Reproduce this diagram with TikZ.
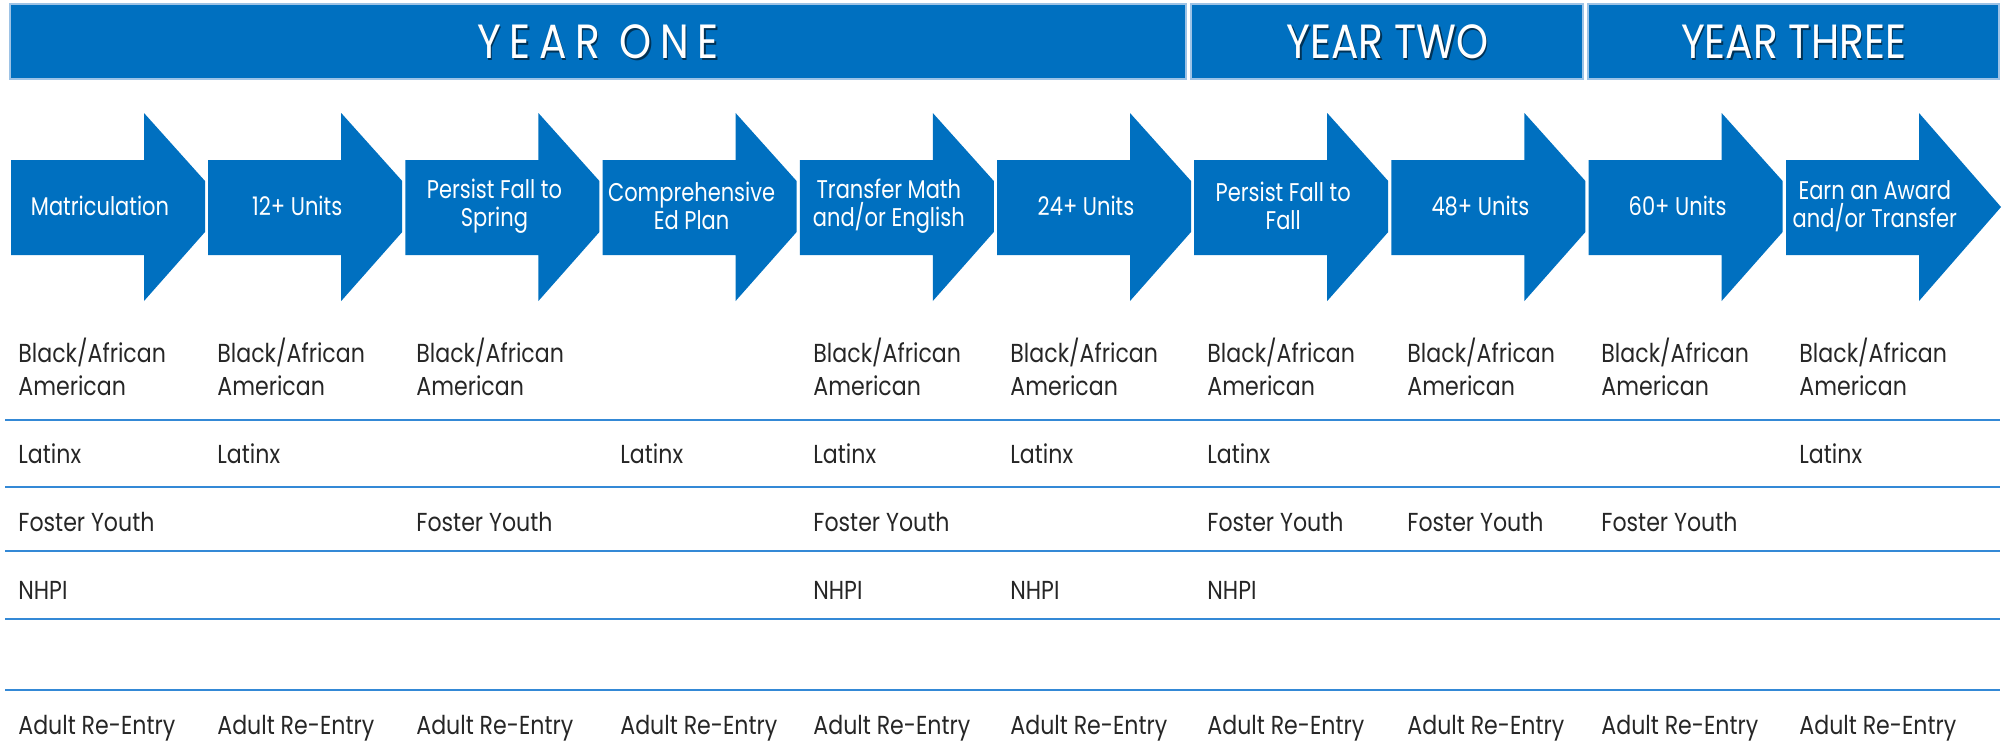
\documentclass[tikz,border=0pt]{standalone}
\usepackage{fontspec}
\setmainfont{Poppins}
\newfontfamily\stepfont[FakeStretch=0.82]{Poppins}
\newfontfamily\cellfont[FakeStretch=0.85]{Poppins}
\newfontfamily\yearfont[FakeStretch=0.85]{Poppins}

\definecolor{barblue}{RGB}{0,112,192}
\definecolor{barrim}{RGB}{157,195,230}
\definecolor{rowline}{RGB}{52,137,214}
\definecolor{celltext}{RGB}{38,38,38}

\tikzset{
	yearbar/.style={fill=barblue, draw=barrim, line width=0.6},
	yeartext/.style={text=white, inner sep=0, font=\yearfont\fontsize{24}{28}\selectfont},
	yearshadow/.style={yeartext, text=black, opacity=0.55},
	steptext/.style={text=white, align=center, inner sep=0, font=\stepfont\fontsize{12.8}{13.9}\selectfont},
	cell/.style={anchor=base west, text=celltext, align=left, inner sep=0, font=\cellfont\fontsize{13}{16.5}\selectfont},
	rowrule/.style={rowline, line width=1},
}

\begin{document}
\begin{tikzpicture}[x=0.5pt,y=-0.5pt]
	\useasboundingbox (0,0) rectangle (2005,741);

	% year bars
	\draw[yearbar] (10,4) rectangle (1186,79);
	\draw[yearbar] (1191,4) rectangle (1583,79);
	\draw[yearbar] (1588,4) rectangle (1999,79);
	\node[yearshadow] (yr1s) at (599.5,43.5) {\addfontfeature{LetterSpace=18}YEAR ONE};
	\node[yeartext] (yr1) at (598,42) {\addfontfeature{LetterSpace=18}YEAR ONE};
	\node[yearshadow] (yr2s) at (1389,43.5) {YEAR TWO};
	\node[yeartext] (yr2) at (1387.5,42) {YEAR TWO};
	\node[yearshadow] (yr3s) at (1795,43.5) {YEAR THREE};
	\node[yeartext] (yr3) at (1793.5,42) {YEAR THREE};

	% step arrows, tips cut where the next one starts
	\foreach \i in {0,...,8}{
		\pgfmathsetmacro\sx{11+197.2*\i}
		\fill[barblue] (\sx,160) -- (\sx+133,160) -- (\sx+133,113) -- (\sx+194,181)
			-- (\sx+194,232) -- (\sx+133,301) -- (\sx+133,255) -- (\sx,255) -- cycle;
	}
	\fill[barblue] (1786,160) -- (1919,160) -- (1919,113) -- (2001,207)
		-- (1919,301) -- (1919,255) -- (1786,255) -- cycle;

	\foreach \i/\txt in {0/Matriculation, 1/12+ Units, 2/{Persist Fall to\\Spring},
		3/{Comprehensive\\Ed Plan}, 4/{Transfer Math\\and/or English}, 5/24+ Units,
		6/{Persist Fall to\\Fall}, 7/48+ Units, 8/60+ Units, 9/{Earn an Award\\and/or Transfer}}{
		\pgfmathsetmacro\sx{11+197.2*\i}
		\node[steptext] (step\i) at (\sx+89,206) {\txt};
	}

	% rules between the groups
	\foreach \ry in {420,487,551,619,690}
		\draw[rowrule] (5,\ry) -- (2000,\ry);

	% group entries under each step
	\def\colx{{18,217,416,620,813,1010,1207,1407,1601,1799}}
	\foreach \c in {0,1,2,4,5,6,7,8,9}{
		\pgfmathsetmacro\cx{\colx[\c]}
		\node[cell] (black\c) at (\cx,395) {Black/African\\American};
	}
	\foreach \c in {0,1,3,4,5,6,9}{
		\pgfmathsetmacro\cx{\colx[\c]}
		\node[cell] (latinx\c) at (\cx,463) {Latinx};
	}
	\foreach \c in {0,2,4,6,7,8}{
		\pgfmathsetmacro\cx{\colx[\c]}
		\node[cell] (foster\c) at (\cx,531.5) {Foster Youth};
	}
	\foreach \c in {0,4,5,6}{
		\pgfmathsetmacro\cx{\colx[\c]}
		\node[cell] (nhpi\c) at (\cx,599.5) {NHPI};
	}
	\foreach \c in {0,...,9}{
		\pgfmathsetmacro\cx{\colx[\c]}
		\node[cell] (adult\c) at (\cx,734) {Adult Re-Entry};
	}
\end{tikzpicture}
\end{document}
